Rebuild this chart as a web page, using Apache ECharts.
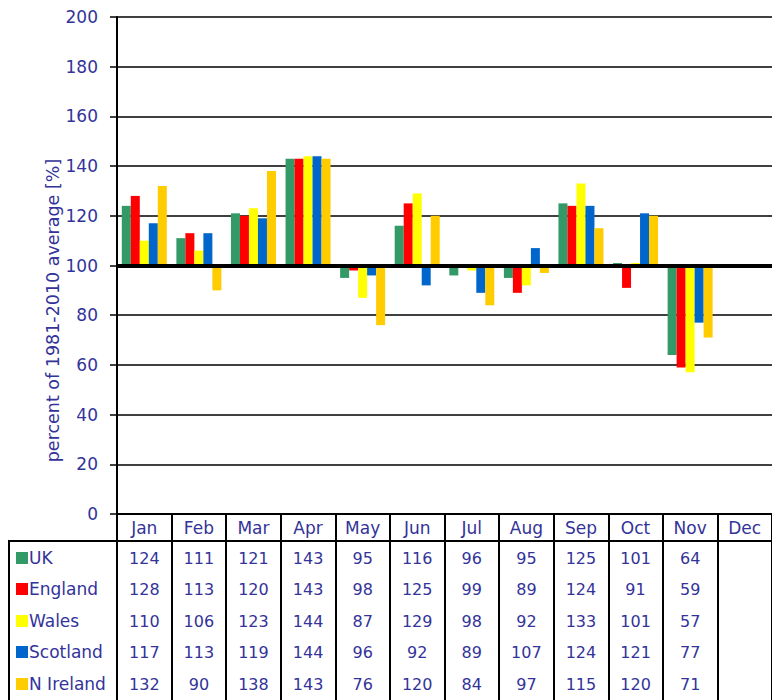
<!DOCTYPE html>
<html>
<head>
<meta charset="utf-8">
<script src="https://cdn.jsdelivr.net/npm/echarts@6/dist/echarts.min.js"></script>
<style>
html,body{margin:0;padding:0;background:#fff;}
#chart{width:772px;height:700px;}
</style>
</head>
<body>
<div id="chart"></div>
<script>
const months = ['Jan','Feb','Mar','Apr','May','Jun','Jul','Aug','Sep','Oct','Nov','Dec'];
const yTicks = [0,20,40,60,80,100,120,140,160,180,200];
const uk       = [124,111,121,143,95,116,96,95,125,101,64,null];
const england  = [128,113,120,143,98,125,99,89,124,91,59,null];
const wales    = [110,106,123,144,87,129,98,92,133,101,57,null];
const scotland = [117,113,119,144,96,92,89,107,124,121,77,null];
const nireland = [132,90,138,143,76,120,84,97,115,120,71,null];
const seriesNames = ['UK','England','Wales','Scotland','N Ireland'];
const baseline = 100;

const allData = [uk, england, wales, scotland, nireland];
const colors = ['#339966','#FF0000','#FFFF00','#0066CC','#FFCC00'];
const txt = '#333399';
const font = 'DejaVu Sans';

const series = [];
allData.forEach((vals, i) => {
  const base = vals.map(v => v == null ? null : Math.min(v, baseline));
  const delta = vals.map(v => v == null ? null : Math.abs(v - baseline));
  series.push({
    name: seriesNames[i] + ' base', type: 'bar', stack: 's' + i,
    data: base, barWidth: 9, barGap: '0%',
    itemStyle: { color: 'rgba(0,0,0,0)' }, silent: true, z: 1
  });
  const s = {
    name: seriesNames[i], type: 'bar', stack: 's' + i,
    data: delta, barWidth: 9, barGap: '0%',
    itemStyle: { color: colors[i] }, z: 2
  };
  if (i === 0) {
    s.markLine = {
      silent: true, symbol: 'none', label: { show: false },
      lineStyle: { color: '#000', width: 4, type: 'solid' },
      data: [{ yAxis: baseline }], z: 5
    };
  }
  series.push(s);
});

const rowOffsets = [44, 75, 107, 138, 170];
const xAxes = [{
  type: 'category', data: months, gridIndex: 0, position: 'bottom',
  axisLine: { show: true, lineStyle: { color: '#000', width: 2 } },
  axisTick: { show: true, interval: 0, length: 200, lineStyle: { color: '#000', width: 2 } },
  axisLabel: { interval: 0, margin: 14, verticalAlign: 'middle', color: txt, fontSize: 17, fontFamily: font },
  splitLine: { show: false }
}];
allData.forEach((vals, i) => {
  xAxes.push({
    type: 'category', data: vals.map(v => v == null ? '' : String(v)), gridIndex: 0, position: 'bottom',
    axisLine: { show: false }, axisTick: { show: false }, splitLine: { show: false },
    axisLabel: { interval: 0, margin: rowOffsets[i], verticalAlign: 'middle', color: txt, fontSize: 16, fontFamily: font }
  });
});

const legendCenters = [558, 589, 621, 652, 684];
const legends = seriesNames.map((n, i) => ({
  data: [n], orient: 'vertical', left: 16, top: legendCenters[i] - 10, padding: 0,
  icon: 'rect', itemWidth: 12, itemHeight: 12, itemGap: 0,
  selectedMode: false,
  textStyle: { color: txt, fontSize: 17, fontFamily: font, padding: [0,0,0,-4], lineHeight: 20 }
}));

const chart = echarts.init(document.getElementById('chart'), null, { renderer: 'svg' });
chart.setOption({
  animation: false,
  backgroundColor: '#fff',
  grid: { left: 117, top: 17, width: 662, height: 497 },
  legend: legends,
  xAxis: xAxes,
  yAxis: {
    type: 'value', min: yTicks[0], max: yTicks[yTicks.length-1], interval: 20,
    name: 'percent of 1981-2010 average [%]', nameLocation: 'middle', nameGap: 55,
    nameMoveOverlap: false,
    nameTextStyle: { color: txt, fontSize: 17.5, fontFamily: font, padding: [0, 90, 0, 0] },
    axisLine: { show: true, lineStyle: { color: '#000', width: 2 } },
    axisTick: { show: true, length: 7, lineStyle: { color: '#000', width: 1.5 } },
    axisLabel: { color: txt, fontSize: 17, fontFamily: font, margin: 19 },
    splitLine: { show: true, lineStyle: { color: '#000', width: 1.5 } }
  },
  graphic: [{
    type: 'rect', shape: { x: 9, y: 541, width: 800, height: 200 },
    style: { fill: 'none', stroke: '#000', lineWidth: 2 }, silent: true, z: 10
  }],
  series: series
});
</script>
</body>
</html>
